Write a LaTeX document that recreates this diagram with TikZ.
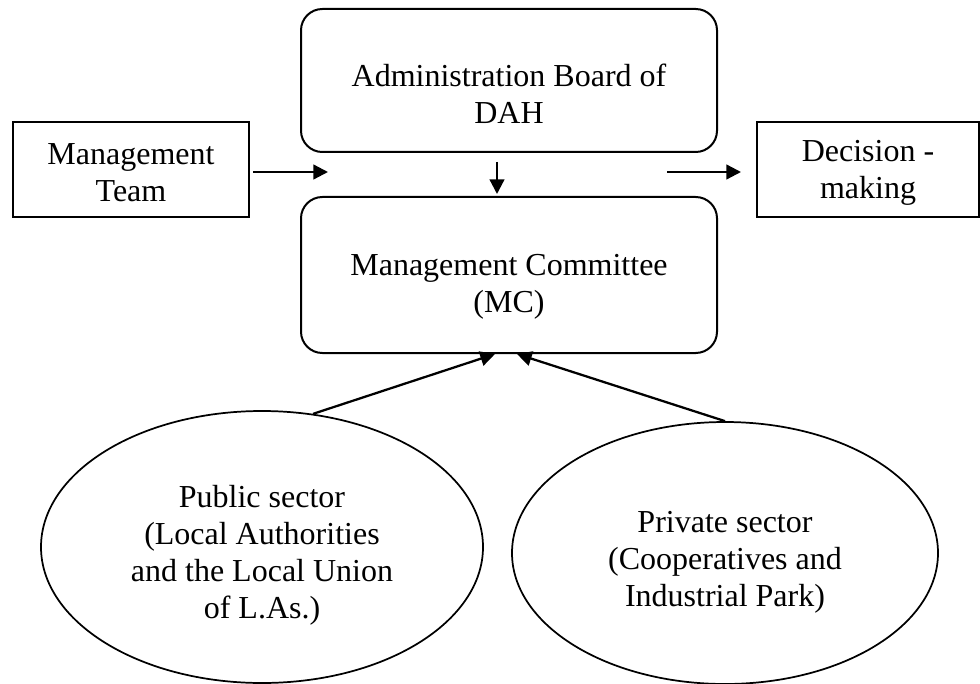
\documentclass[tikz,border=0pt]{standalone}
\usepackage{fontspec}
\setmainfont{Liberation Serif}
\usetikzlibrary{shapes.geometric,arrows.meta}

\begin{document}
\begin{tikzpicture}%
[x=0.75pt, y=-0.75pt,%
roundbox/.style={draw, line width=1.5pt, rounded corners=16pt, minimum width=312pt, inner sep=0pt},%
plainbox/.style={draw, line width=1.5pt, minimum height=71.25pt, inner sep=0pt},%
oval/.style={draw, line width=1.3pt, shape=ellipse, inner sep=0pt},%
txt/.style={align=center, inner sep=0pt, font=\fontsize{24}{27.75}\selectfont},%
arr/.style={line width=1.7pt, -{Triangle[length=11pt, width=11pt]}}]
\useasboundingbox (0,0) rectangle (980,684);
% shapes
\node[roundbox, minimum height=107.25pt] (board) at (509,80.5) {};
\node[roundbox, minimum height=117pt] (mc) at (509,275) {};
\node[plainbox, minimum width=177pt] (team) at (131,169.5) {};
\node[plainbox, minimum width=166.5pt] (dec) at (868,169.5) {};
\node[oval, minimum width=331.5pt, minimum height=204pt] (pub) at (262,547) {};
\node[oval, minimum width=319.5pt, minimum height=196.5pt] (priv) at (725,553) {};
% texts
\node[txt] (boardtext) at (509,94) {Administration Board of\\DAH};
\node[txt] (mctext) at (509,287) {Management Committee\\(MC)};
\node[txt] (teamtext) at (131,172.5) {Management\\Team};
\node[txt] (dectext) at (868,172.5) {Decision -\\making};
\node[txt] (pubtext) at (262,555) {Public sector\\(Local Authorities\\and the Local Union\\of L.As.)};
\node[txt] (privtext) at (725,562) {Private sector\\(Cooperatives and\\Industrial Park)};
% arrows
\coordinate (teamend) at (328,172);
\coordinate (decstart) at (667,172);
\draw[arr, shorten <=2.25pt] (team.east |- teamend) -- (teamend);
\draw[arr, shorten >=11.25pt] (decstart) -- (dec.west |- decstart);
\draw[arr, shorten <=6.75pt, shorten >=1.5pt] ([xshift=-9pt]board.south) -- ([xshift=-9pt]mc.north);
\draw[arr] (pub.69) -- ([xshift=-10.5pt]mc.south);
\draw[arr] (priv.north) -- ([xshift=6pt]mc.south);
\end{tikzpicture}
\end{document}
